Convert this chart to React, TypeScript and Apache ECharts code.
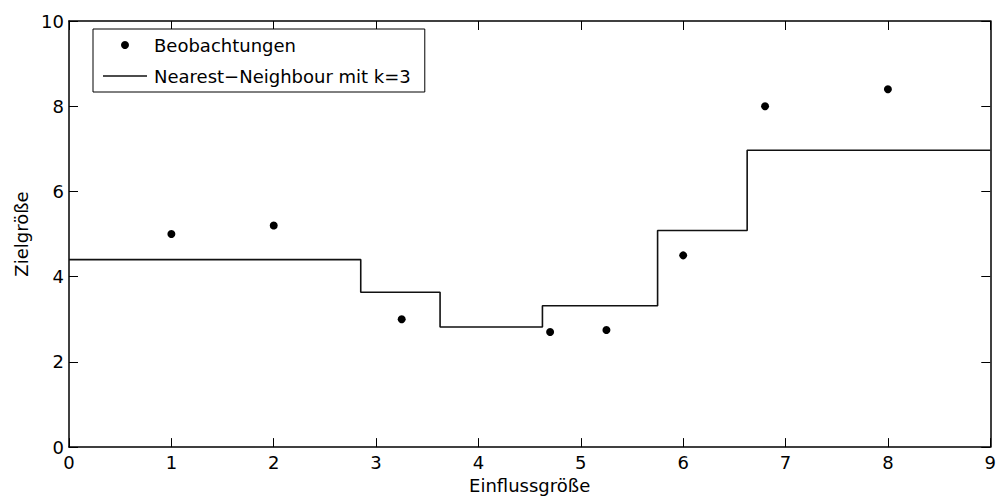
import React, { useEffect, useRef } from "react";
import * as echarts from "echarts";

// Observations (Einflussgröße, Zielgröße)
const obsX = [1, 2, 3.25, 4.7, 5.25, 6, 6.8, 8];
const obsY = [5.0, 5.2, 3.0, 2.7, 2.75, 4.5, 8.0, 8.4];

// k-NN (k=3) prediction: piecewise constant levels between the edges
const stepEdges = [0, 2.85, 3.625, 4.625, 5.75, 6.625, 9];
const stepLevels = [4.4, 3.633, 2.817, 3.317, 5.083, 6.967];

const xTicks = { min: 0, max: 9, interval: 1 };
const yTicks = { min: 0, max: 10, interval: 2 };

const FONT = "DejaVu Sans";
const FS = 18;
const LINE_NAME = "Nearest\u2212Neighbour mit k=3";

export default function App() {
  const ref = useRef<HTMLDivElement>(null);

  useEffect(() => {
    if (!ref.current) return;
    const chart = echarts.init(ref.current, undefined, { renderer: "svg" });

    const scatterData = obsX.map((x, i) => [x, obsY[i]]);
    const stepData = stepLevels.map((v, i) => [stepEdges[i], v]);
    stepData.push([stepEdges[stepEdges.length - 1], stepLevels[stepLevels.length - 1]]);

    const axisLine = { show: true, onZero: false, lineStyle: { color: "#000", width: 1.5 } };
    const axisTick = { show: true, inside: true, length: 9, lineStyle: { color: "#000", width: 1 } };
    const label = { color: "#000", fontSize: FS, fontFamily: FONT };

    chart.setOption({
      animation: false,
      backgroundColor: "#fff",
      grid: { left: 69, right: 7, top: 21, bottom: 50, containLabel: false },
      legend: {
        orient: "vertical",
        left: 93,
        top: 29,
        padding: [7, 14, 7, 10],
        itemWidth: 44,
        itemHeight: 8,
        itemGap: 13,
        symbolKeepAspect: true,
        backgroundColor: "#fff",
        borderColor: "#000",
        borderWidth: 1,
        borderRadius: 0,
        textStyle: { color: "#000", fontSize: FS, fontFamily: FONT, padding: [0, 0, 0, 2] },
        data: [
          { name: "Beobachtungen", icon: "circle", itemStyle: { color: "#000", opacity: 1 } },
          { name: LINE_NAME, icon: "path://M0,0H44V1.6H0Z", itemStyle: { color: "#111" } },
        ],
      },
      xAxis: [
        {
          type: "value",
          position: "bottom",
          ...xTicks,
          axisLine,
          axisTick,
          axisLabel: { ...label, margin: 6, showMinLabel: true, showMaxLabel: true },
          splitLine: { show: false },
          name: "Einflussgröße",
          nameLocation: "middle",
          nameGap: 28,
          nameTextStyle: { ...label },
        },
        {
          type: "value",
          position: "top",
          ...xTicks,
          axisLine,
          axisTick,
          axisLabel: { show: false },
          splitLine: { show: false },
        },
      ],
      yAxis: [
        {
          type: "value",
          position: "left",
          ...yTicks,
          axisLine,
          axisTick,
          axisLabel: { ...label, margin: 5, showMinLabel: true, showMaxLabel: true },
          splitLine: { show: false },
          name: "Zielgröße",
          nameLocation: "middle",
          nameGap: 38,
          nameTextStyle: { ...label },
        },
        {
          type: "value",
          position: "right",
          ...yTicks,
          axisLine,
          axisTick,
          axisLabel: { show: false },
          splitLine: { show: false },
        },
      ],
      series: [
        {
          name: "Beobachtungen",
          type: "scatter",
          symbol: "circle",
          symbolSize: 8,
          itemStyle: { color: "#000", opacity: 1 },
          data: scatterData,
        },
        {
          name: LINE_NAME,
          type: "line",
          step: "end",
          symbol: "none",
          showSymbol: false,
          lineStyle: { color: "#111", width: 1.6 },
          itemStyle: { color: "#111" },
          data: stepData,
        },
      ],
    });

    return () => chart.dispose();
  }, []);

  return (
    <div
      ref={ref}
      style={{ position: "fixed", left: 0, top: 0, width: 999, height: 499, background: "#fff" }}
    />
  );
}
